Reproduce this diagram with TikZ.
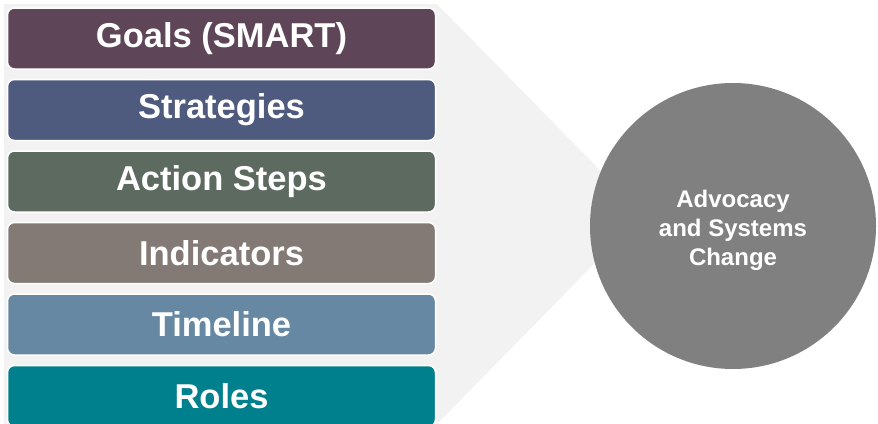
\documentclass[tikz,border=0pt]{standalone}
\usepackage{fontspec}
\setmainfont{Liberation Sans}
\usetikzlibrary{positioning}

\definecolor{goalcol}{HTML}{5E4558}
\definecolor{stratcol}{HTML}{4F5B7E}
\definecolor{actcol}{HTML}{5C6A60}
\definecolor{indcol}{HTML}{837A76}
\definecolor{timecol}{HTML}{6788A2}
\definecolor{rolecol}{HTML}{00808C}
\definecolor{backcol}{HTML}{F2F2F2}
\definecolor{circcol}{HTML}{808080}

\begin{document}
\begin{tikzpicture}[
		x=1pt, y=-1pt,
		font=\bfseries,
		planbox/.style={draw=white, line width=1.5pt, rounded corners=7pt, text=white,
			minimum width=428pt, minimum height=61pt, inner sep=0pt,
			font=\fontsize{34.5}{37}\selectfont\bfseries},
		hub/.style={circle, fill=circcol, minimum size=286pt, inner sep=0pt},
		hubtext/.style={text=white, align=center, font=\fontsize{24}{29}\selectfont\bfseries}
		]
		\useasboundingbox (0,0) rectangle (878,423);
		
		% Grey funnel behind the boxes
		\coordinate (apex) at (643,214);
		\fill[backcol] (4,4) -- (437,4) -- (apex) -- (437,424) -- (4,424) -- cycle;
		
		% Plan elements
		\node[planbox, fill=goalcol] (goals) at (221.5,38.5) {Goals (SMART)};
		\node[planbox, fill=stratcol, below=9pt of goals] (strategies) {Strategies};
		\node[planbox, fill=actcol, below=9pt of strategies] (actions) {Action Steps};
		\node[planbox, fill=indcol, below=9pt of actions] (indicators) {Indicators};
		\node[planbox, fill=timecol, below=9pt of indicators] (timeline) {Timeline};
		\node[planbox, fill=rolecol, below=9pt of timeline] (roles) {Roles};
		
		% Outcome
		\node[hub] (change) at (733,226) {};
		\node[hubtext, yshift=-4pt] (changetext) at (change) {Advocacy\\and Systems\\Change};
		\end{tikzpicture}
\end{document}
